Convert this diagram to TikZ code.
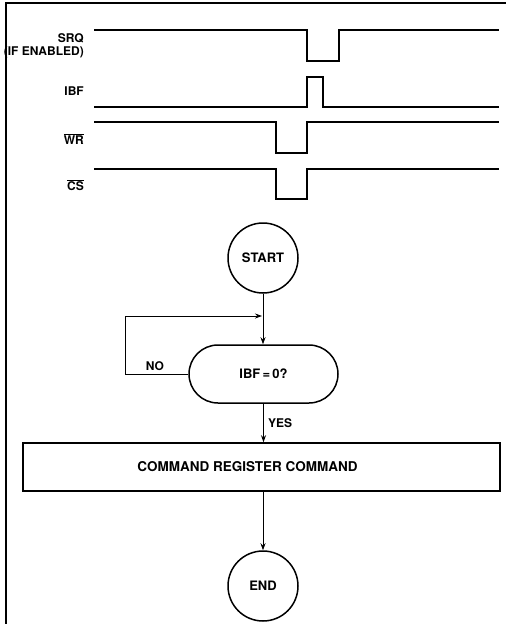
\documentclass[tikz,border=0pt]{standalone}
\usepackage{fontspec}
\setmainfont{TeX Gyre Heros}
\usetikzlibrary{shapes.misc,arrows.meta}
\begin{document}
\begin{tikzpicture}[x=1pt,y=-1pt,
  sig/.style={line width=1.4pt},
  shp/.style={draw,line width=1.5pt,font=\bfseries\fontsize{13}{15}\selectfont},
  conn/.style={line width=0.8pt,-{Stealth[length=7pt,width=5pt]}},
  lbl/.style={font=\bfseries\fontsize{12}{13}\selectfont,inner sep=0pt},
  frame/.style={line width=1.3pt}]
\useasboundingbox (0,0) rectangle (506,624);
% frame
\draw[frame] (506,3) -- (6,3) -- (6,624);
% timing signals
\draw[sig] (94,30) -- (307,30) -- (307,61) -- (339,61) -- (339,30) -- (499,30);
\draw[sig] (94,107) -- (307,107) -- (307,77) -- (323,77) -- (323,107) -- (499,107);
\draw[sig] (94,122) -- (276,122) -- (276,153) -- (307,153) -- (307,122) -- (499,122);
\draw[sig] (94,169) -- (276,169) -- (276,199) -- (307,199) -- (307,169) -- (499,169);
\node[lbl,anchor=east,align=right] (srq) at (84,46) {SRQ\\(IF ENABLED)};
\node[lbl,anchor=east] (ibf) at (84,91) {IBF};
\node[lbl,anchor=east] (wr) at (84,139) {$\overline{\mbox{WR}}$};
\node[lbl,anchor=east] (cs) at (84,185) {$\overline{\mbox{CS}}$};
% flowchart
\node[shp,circle,minimum size=70pt,inner sep=0pt] (start) at (263,258) {START};
\node[shp,rounded rectangle,minimum width=149pt,minimum height=58pt,inner sep=0pt] (dec) at (263.5,374) {IBF\,=\,0?};
\node[shp,rectangle,minimum width=477pt,minimum height=48pt,inner sep=0pt,font=\bfseries\fontsize{13.5}{15}\selectfont] (cmd) at (261.5,467) {\hspace*{-28pt}COMMAND REGISTER COMMAND};
\node[shp,circle,minimum size=70pt,inner sep=0pt] (end) at (263,586) {END};
\coordinate (la) at (125,374);
\coordinate (lb) at (125,316);
\coordinate (lc) at (262,316);
\draw[conn] (start) -- (start |- dec.north);
\draw[conn,-] (dec.west) -- (la) -- (lb);
\draw[conn] (lb) -- (lc);
\node[lbl] (no) at (155,366) {NO};
\draw[conn] (dec.south) -- (dec.south |- cmd.north);
\node[lbl,anchor=west] (yes) at (268,423) {YES};
\draw[conn] (cmd.south -| end) -- (end.north);
\end{tikzpicture}
\end{document}
